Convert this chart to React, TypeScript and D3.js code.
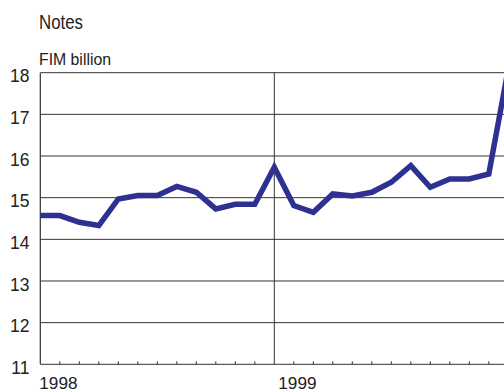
import React from "react";
import * as d3 from "d3";

const monthIndex: number[] = Array.from({ length: 25 }, (_, i) => i);
const values: number[] = [
  14.57, 14.57, 14.41, 14.33, 14.97, 15.05, 15.05, 15.27, 15.13, 14.73, 14.84, 14.84,
  15.73, 14.81, 14.65, 15.09, 15.04, 15.13, 15.37, 15.77, 15.25, 15.45, 15.45, 15.57,
  18.1,
];
const yTicks: number[] = [11, 12, 13, 14, 15, 16, 17, 18];
const yearLabels: string[] = ["1998", "1999"];
const yearStarts: number[] = [0, 12];
const title = "Notes";
const unit = "FIM billion";

const W = 504;
const H = 390;
const FONT = "'Liberation Sans', Arial, Helvetica, sans-serif";
const INK = "#222";
const LINE = "#2e3192";

export default function App() {
  const x = d3.scaleLinear().domain([0, 12]).range([40.3, 274.3]);
  const y = d3.scaleLinear().domain([11, 18]).range([364.3, 72.7]);
  const line = d3
    .line<number>()
    .x((_, i) => x(monthIndex[i]))
    .y((d) => y(d));
  const minorTicks = d3.range(1, 24).filter((m) => m % 12 !== 0);
  const x0 = x(0);
  const xEnd = W;

  return (
    <svg
      width={W}
      height={H}
      style={{ position: "absolute", left: 0, top: 0, background: "#fff" }}
      fontFamily={FONT}
    >
      <text x={39} y={29.3} fontSize={20} fill={INK} textLength={44} lengthAdjust="spacingAndGlyphs">
        {title}
      </text>
      <text x={39} y={65} fontSize={16.3} fill={INK} textLength={72} lengthAdjust="spacingAndGlyphs">
        {unit}
      </text>

      {yTicks.map((t) => (
        <g key={t}>
          <line x1={x0} x2={xEnd} y1={y(t)} y2={y(t)} stroke="#333" strokeWidth={1} />
          <text x={29.5} y={y(t) + 9.7} fontSize={17.5} fill={INK} textAnchor="end">
            {t}
          </text>
        </g>
      ))}

      <line x1={x0} x2={x0} y1={y(18)} y2={y(11)} stroke="#333" strokeWidth={1.2} />
      {yearStarts.slice(1).map((m) => (
        <line key={m} x1={x(m)} x2={x(m)} y1={y(18)} y2={y(11)} stroke="#333" strokeWidth={1} />
      ))}
      {minorTicks.map((m) => (
        <line key={m} x1={x(m)} x2={x(m)} y1={y(11)} y2={y(11) - 3} stroke="#333" strokeWidth={1} />
      ))}

      {yearLabels.map((lab, i) => (
        <text key={lab} x={x(yearStarts[i]) + (i === 0 ? -1 : 4)} y={388.5} fontSize={17.2} fill={INK}>
          {lab}
        </text>
      ))}

      <path
        d={line(values) || ""}
        fill="none"
        stroke={LINE}
        strokeWidth={5.5}
        strokeLinejoin="miter"
        strokeMiterlimit={4}
      />
    </svg>
  );
}
